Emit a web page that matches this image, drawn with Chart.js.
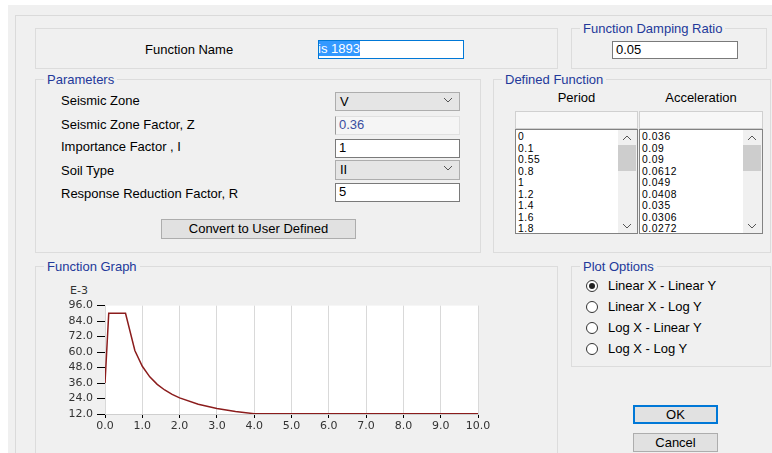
<!DOCTYPE html>
<html>
<head>
<meta charset="utf-8">
<script src="https://cdn.jsdelivr.net/npm/chart.js@4.4.1/dist/chart.umd.min.js"></script>
<style>
  html, body { margin: 0; padding: 0; }
  body { width: 772px; height: 453px; background: #fff; position: relative; overflow: hidden;
         font-family: "Liberation Sans", Arial, sans-serif; font-size: 13px; color: #000; }
  .abs { position: absolute; }
  #dlg { left: 8px; top: 5px; width: 764px; height: 448px; background: #f0f0f0; }
  #frame { left: 15px; top: 15px; width: 770px; height: 450px; border-left: 1px solid #dadada; border-top: 1px solid #dadada; }
  .grp { position: absolute; border: 1px solid #dcdcdc; box-sizing: border-box; }
  .grp .cap { position: absolute; top: -8px; left: 8px; padding: 0 3px; background: #f0f0f0;
              color: #23399a; line-height: 15px; white-space: nowrap; }
  .txt { position: absolute; white-space: nowrap; line-height: 16px; }
  .tb { position: absolute; box-sizing: border-box; background: #fff; border: 1px solid #7a7a7a;
        padding-left: 3px; line-height: 16px; overflow: hidden; white-space: nowrap; }
  .cb { position: absolute; box-sizing: border-box; background: #e5e5e5; border: 1px solid #adadad;
        padding-left: 4px; line-height: 17px; }
  .chev { position: absolute; right: 6px; top: 3px; }
  .btn { position: absolute; box-sizing: border-box; background: #e1e1e1; border: 1px solid #adadad;
         text-align: center; line-height: 17px; }
  .list { position: absolute; box-sizing: border-box; background: #fff; border: 1px solid #828282; overflow: hidden; }
  .list .items { position: absolute; left: 2px; top: 1px; line-height: 11.5px; font-size: 10.3px; letter-spacing: 0.6px; }
  .sb { position: absolute; right: 0; top: 0; bottom: 0; width: 19px; background: #f0f0f0; }
  .sb .thumb { position: absolute; left: 0; right: 1px; top: 15px; height: 26px; background: #cdcdcd; }
  .radio { position: absolute; width: 12px; height: 12px; border: 1px solid #333; border-radius: 50%; background: #fff; box-sizing: border-box; }
  .radio.on::after { content: ""; position: absolute; left: 2px; top: 2px; width: 6px; height: 6px; border-radius: 50%; background: #222; }
</style>
</head>
<body>
<div id="dlg" class="abs"></div>
<div id="frame" class="abs"></div>

<!-- function name -->
<div class="grp" style="left:35px;top:28px;width:523px;height:41px;"></div>
<div class="txt" style="left:145px;top:42px;">Function Name</div>
<div class="tb" style="left:318px;top:40px;width:146px;height:19px;border-color:#0078d7;padding-left:0;">
  <span style="background:#3399ff;color:#fff;margin-left:-1px;">is 1893</span>
</div>

<!-- damping -->
<div class="grp" style="left:571px;top:28px;width:196px;height:41px;"><div class="cap">Function Damping Ratio</div></div>
<div class="tb" style="left:612px;top:41px;width:126px;height:18px;">0.05</div>

<!-- parameters -->
<div class="grp" style="left:35px;top:79px;width:446px;height:174px;"><div class="cap">Parameters</div></div>
<div class="txt" style="left:61px;top:93px;">Seismic Zone</div>
<div class="txt" style="left:61px;top:117px;">Seismic Zone Factor, Z</div>
<div class="txt" style="left:61px;top:139px;">Importance Factor , I</div>
<div class="txt" style="left:61px;top:163px;">Soil Type</div>
<div class="txt" style="left:61px;top:186px;">Response Reduction Factor, R</div>
<div class="cb" style="left:335px;top:92px;width:125px;height:19px;">V
  <svg class="chev" width="10" height="8"><polyline points="1,2 5,6 9,2" fill="none" stroke="#555" stroke-width="1"/></svg></div>
<div class="tb" style="left:335px;top:116px;width:125px;height:19px;background:#f5f5f5;border-color:#e0e0e0;border-left-color:#9a9a9a;color:#3b4da0;">0.36</div>
<div class="tb" style="left:335px;top:139px;width:125px;height:19px;">1</div>
<div class="cb" style="left:335px;top:160px;width:125px;height:20px;">II
  <svg class="chev" width="10" height="8"><polyline points="1,2 5,6 9,2" fill="none" stroke="#555" stroke-width="1"/></svg></div>
<div class="tb" style="left:335px;top:183px;width:125px;height:19px;">5</div>
<div class="btn" style="left:161px;top:219px;width:195px;height:20px;">Convert to User Defined</div>

<!-- defined function -->
<div class="grp" style="left:493px;top:79px;width:278px;height:174px;"><div class="cap">Defined Function</div></div>
<div class="txt" style="left:515px;top:90px;width:123px;text-align:center;">Period</div>
<div class="txt" style="left:639px;top:90px;width:124px;text-align:center;">Acceleration</div>
<div class="abs" style="left:515px;top:111px;width:123px;height:18px;box-sizing:border-box;border:1px solid #d0d0d0;background:#f7f7f7;"></div>
<div class="abs" style="left:639px;top:111px;width:124px;height:18px;box-sizing:border-box;border:1px solid #d0d0d0;background:#f7f7f7;"></div>
<div class="list" style="left:515px;top:129px;width:123px;height:105px;"><div class="items" id="listP"></div>
  <div class="sb"><svg class="abs" style="left:4px;top:4px" width="10" height="8"><polyline points="1,6 5,2 9,6" fill="none" stroke="#555"/></svg>
  <div class="thumb"></div>
  <svg class="abs" style="left:4px;bottom:3px" width="10" height="8"><polyline points="1,2 5,6 9,2" fill="none" stroke="#555"/></svg></div></div>
<div class="list" style="left:639px;top:129px;width:124px;height:105px;"><div class="items" id="listA"></div>
  <div class="sb"><svg class="abs" style="left:4px;top:4px" width="10" height="8"><polyline points="1,6 5,2 9,6" fill="none" stroke="#555"/></svg>
  <div class="thumb"></div>
  <svg class="abs" style="left:4px;bottom:3px" width="10" height="8"><polyline points="1,2 5,6 9,2" fill="none" stroke="#555"/></svg></div></div>

<!-- function graph -->
<div class="grp" style="left:35px;top:266px;width:523px;height:200px;"><div class="cap">Function Graph</div></div>
<div class="txt" style="left:70px;top:283px;font-size:11px;font-family:'DejaVu Sans',sans-serif;color:#333;">E-3</div>
<canvas id="graph" class="abs" width="438" height="141" style="left:55px;top:295px;"></canvas>

<!-- plot options -->
<div class="grp" style="left:571px;top:266px;width:200px;height:101px;"><div class="cap">Plot Options</div></div>
<div class="radio on" style="left:586px;top:280px;"></div><div class="txt" style="left:608px;top:278px;">Linear X - Linear Y</div>
<div class="radio" style="left:586px;top:301px;"></div><div class="txt" style="left:608px;top:299px;">Linear X - Log Y</div>
<div class="radio" style="left:586px;top:322px;"></div><div class="txt" style="left:608px;top:320px;">Log X - Linear Y</div>
<div class="radio" style="left:586px;top:343px;"></div><div class="txt" style="left:608px;top:341px;">Log X - Log Y</div>

<div class="btn" style="left:633px;top:405px;width:85px;height:19px;border:2px solid #0078d7;line-height:15px;">OK</div>
<div class="btn" style="left:633px;top:433px;width:85px;height:19px;">Cancel</div>

<script>
// spectrum as listed in the dialog (period in s, acceleration in g)
const periods = [0, 0.1, 0.55, 0.8, 1, 1.2, 1.4, 1.6, 1.8, 2, 2.5, 3, 3.5, 4, 5, 6, 7, 8, 9, 10];
const accel = [0.036, 0.09, 0.09, 0.0612, 0.049, 0.0408, 0.035, 0.0306, 0.0272, 0.0245,
               0.0196, 0.0163, 0.014, 0.0122, 0.0122, 0.0122, 0.0122, 0.0122, 0.0122, 0.0122];
const visibleRows = 9;
const xTicks = [0, 1, 2, 3, 4, 5, 6, 7, 8, 9, 10];
const yTicks = [12, 24, 36, 48, 60, 72, 84, 96];   // E-3

document.getElementById('listP').innerHTML =
    periods.slice(0, visibleRows).map(v => '<div>' + v + '</div>').join('');
document.getElementById('listA').innerHTML =
    accel.slice(0, visibleRows).map(v => '<div>' + v + '</div>').join('');

const plotBg = {
    id: 'plotBg',
    beforeDraw(chart) {
        const { ctx, chartArea: a } = chart;
        ctx.save();
        ctx.fillStyle = '#fff';
        ctx.fillRect(a.left, a.top, a.right - a.left, a.bottom - a.top);
        ctx.restore();
    }
};

const tickFont = { family: 'DejaVu Sans', size: 11 };

new Chart(document.getElementById('graph').getContext('2d'), {
    type: 'line',
    data: {
        datasets: [{
            data: periods.map((p, i) => ({ x: p, y: accel[i] * 1000 })),
            borderColor: '#8b1c1c',
            borderWidth: 1.5,
            pointRadius: 0,
            tension: 0
        }]
    },
    options: {
        responsive: false,
        animation: false,
        layout: { padding: { top: 10, right: 15 } },
        plugins: { legend: { display: false }, tooltip: { enabled: false } },
        scales: {
            x: {
                type: 'linear', min: 0, max: 10,
                afterBuildTicks: s => { s.ticks = xTicks.map(v => ({ value: v })); },
                afterFit: s => { s.height = 22; },
                ticks: { color: '#333', font: tickFont, padding: 2, maxRotation: 0, autoSkip: false,
                         callback: v => v.toFixed(1) },
                grid: { color: '#d9d9d9', tickColor: '#000', tickLength: 4 },
                border: { color: '#cfcfcf' }
            },
            y: {
                min: 12, max: 96,
                afterBuildTicks: s => { s.ticks = yTicks.map(v => ({ value: v })); },
                afterFit: s => { s.width = 50; },
                ticks: { color: '#333', font: tickFont, padding: 4, autoSkip: false,
                         callback: v => v.toFixed(1) },
                grid: { drawOnChartArea: false, tickColor: '#000', tickLength: 8 },
                border: { display: false }
            }
        }
    },
    plugins: [plotBg]
});
</script>
</body>
</html>
